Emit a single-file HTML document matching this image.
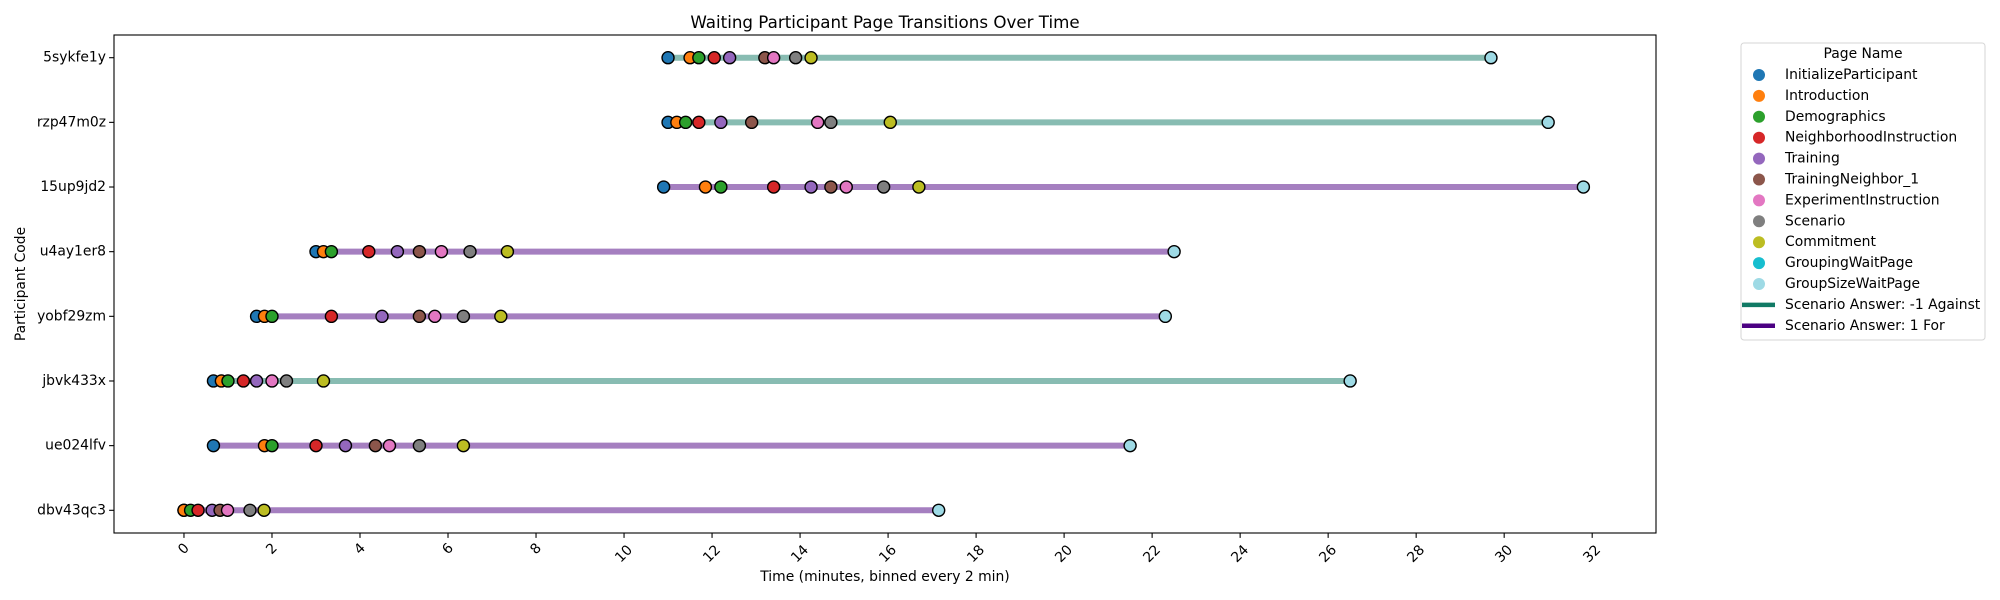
<!DOCTYPE html>
<html><head><meta charset="utf-8"><style>
html,body{margin:0;padding:0;background:#fff;}
svg{display:block;font-family:"DejaVu Sans","Liberation Sans",sans-serif;}
</style></head>
<body>
<svg id="chart" width="2000" height="600" viewBox="0 0 2000 600" xmlns="http://www.w3.org/2000/svg">
<rect width="2000" height="600" fill="#fff"/>
<text x="885" y="28" text-anchor="middle" font-size="16.7">Waiting Participant Page Transitions Over Time</text>
<text x="885" y="581" text-anchor="middle" font-size="13.9">Time (minutes, binned every 2 min)</text>
<text transform="translate(25,284) rotate(-90)" text-anchor="middle" font-size="13.9">Participant Code</text>
<g id="plot"></g>
<rect x="114" y="35" width="1542" height="498" fill="none" stroke="#000" stroke-width="1.1"/>
<g id="legend"></g>
</svg>
<script>
const participants = ["5sykfe1y","rzp47m0z","15up9jd2","u4ay1er8","yobf29zm","jbvk433x","ue024lfv","dbv43qc3"];
const pageNames = ["InitializeParticipant","Introduction","Demographics","NeighborhoodInstruction","Training","TrainingNeighbor_1","ExperimentInstruction","Scenario","Commitment","GroupingWaitPage","GroupSizeWaitPage"];
const pageColors = ["#1f77b4","#ff7f0e","#2ca02c","#d62728","#9467bd","#8c564b","#e377c2","#7f7f7f","#bcbd22","#17becf","#9edae5"];
const scenarioAnswers = [-1,-1,1,1,1,-1,1,1];
// times per page (minutes); null = not visited
const t_5sykfe1y = [11.0,11.5,11.7,12.05,12.4,13.2,13.4,13.9,14.25,null,29.7];
const t_rzp47m0z = [11.0,11.2,11.4,11.7,12.2,12.9,14.4,14.7,16.05,null,31.0];
const t_15up9jd2 = [10.9,11.85,12.2,13.4,14.25,14.7,15.05,15.9,16.7,null,31.8];
const t_u4ay1er8 = [3.0,3.17,3.35,4.2,4.85,5.35,5.85,6.5,7.35,null,22.5];
const t_yobf29zm = [1.65,1.83,2.0,3.35,4.5,5.35,5.7,6.35,7.2,null,22.3];
const t_jbvk433x = [0.67,0.85,1.0,1.35,1.65,null,2.0,2.33,3.17,null,26.5];
const t_ue024lfv = [0.67,1.83,2.0,3.0,3.67,4.35,4.67,5.35,6.35,null,21.5];
const t_dbv43qc3 = [0.0,0.0,0.15,0.32,0.64,0.82,0.99,1.5,1.82,null,17.15];
const times = [t_5sykfe1y,t_rzp47m0z,t_15up9jd2,t_u4ay1er8,t_yobf29zm,t_jbvk433x,t_ue024lfv,t_dbv43qc3];
const xTicks = [0,2,4,6,8,10,12,14,16,18,20,22,24,26,28,30,32];

const NS="http://www.w3.org/2000/svg";
function mk(tag, attrs, parent){const e=document.createElementNS(NS,tag);for(const k in attrs)e.setAttribute(k,attrs[k]);parent.appendChild(e);return e;}
const X0=114, X1=1656, Y0=35, Y1=533;
const xMin=-1.59, xMax=33.45;
function xs(v){return X0+(v-xMin)/(xMax-xMin)*(X1-X0);}
function ys(i){const pad=22.7;return Y0+pad+i*((Y1-Y0-2*pad)/(participants.length-1));}
const plot=document.getElementById('plot');

xTicks.forEach(v=>{
  const x=xs(v);
  const tk=mk('line',{x1:x,x2:x,y1:Y1,y2:Y1+4.9,stroke:'#000','stroke-width':1.1},plot);
  
  
  const two=String(v).length>1;
  const cy=two?554:549;
  const t=mk('text',{x:x,y:cy,'text-anchor':'middle','dominant-baseline':'central','font-size':13.9,transform:`rotate(-45 ${x} ${cy})`},plot);
  t.textContent=v;
  
  
});

participants.forEach((p,i)=>{
  const y=ys(i);
  const tk=mk('line',{x1:X0-4.9,x2:X0,y1:y,y2:y,stroke:'#000','stroke-width':1.1},plot);
  
  
  const t=mk('text',{x:X0-8,y:y,'text-anchor':'end','dominant-baseline':'central','font-size':13.9},plot);
  t.textContent=p;
  
  
  const vals=times[i].filter(v=>v!==null);
  const lo=Math.min(...vals), hi=Math.max(...vals);
  const col=scenarioAnswers[i]<0?'#117a65':'#4b0082';
  const ln=mk('line',{x1:xs(lo),x2:xs(hi),y1:y,y2:y,stroke:col,'stroke-opacity':0.5,'stroke-width':6},plot);
  
  
  times[i].forEach((v,k)=>{
    if(v===null)return;
    const c=mk('circle',{cx:xs(v),cy:y,r:6.0,fill:pageColors[k],stroke:'#000','stroke-width':1.4},plot);
    
    
  });
});

const lg=document.getElementById('legend');
mk('rect',{x:1741,y:43,width:244,height:297,rx:3,fill:'#fff',stroke:'#d6d6d6','stroke-width':1},lg);
const lt=mk('text',{x:1863,y:54,'text-anchor':'middle','dominant-baseline':'central','font-size':13.9},lg);
lt.textContent='Page Name';


const ly0=75, lstep=20.9;
pageNames.forEach((n,k)=>{
  const y=ly0+k*lstep;
  const c=mk('circle',{cx:1759,cy:y,r:6,fill:pageColors[k]},lg);
  
  
  const t=mk('text',{x:1785,y:y,'dominant-baseline':'central','font-size':13.9},lg);
  t.textContent=n;
  
  
});
[['#117a65','Scenario Answer: -1 Against'],['#4b0082','Scenario Answer: 1 For']].forEach((d,j)=>{
  const y=ly0+(pageNames.length+j)*lstep;
  const l=mk('line',{x1:1742,x2:1775,y1:y,y2:y,stroke:d[0],'stroke-width':4.5},lg);
  
  
  const t=mk('text',{x:1785,y:y,'dominant-baseline':'central','font-size':13.9},lg);
  t.textContent=d[1];
  
  
});
</script>
</body></html>
